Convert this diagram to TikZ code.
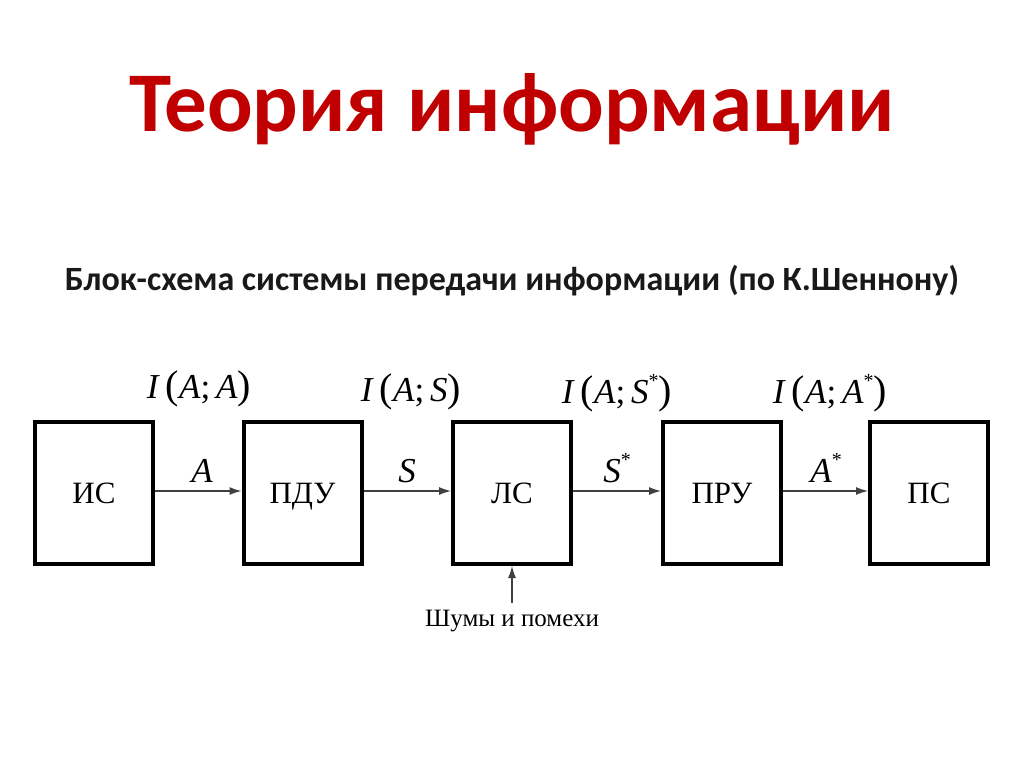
\documentclass[tikz,border=0pt]{standalone}
\usepackage{fontspec}
\setmainfont{Liberation Serif}
\newfontfamily\titlefont{Carlito}
\usetikzlibrary{arrows.meta}
\definecolor{titlered}{RGB}{192,0,0}
\newcommand{\bigparL}{{\fontsize{40}{40}\selectfont(}}
\newcommand{\bigparR}{{\fontsize{40}{40}\selectfont)}}
\newcommand{\starsup}{\raisebox{0.45em}{\fontsize{20}{20}\selectfont *}}
\begin{document}
\begin{tikzpicture}[x=1pt,y=-1pt,
  blk/.style={draw,line width=4pt,minimum width=118pt,minimum height=142pt,inner sep=0pt,text height=20pt,text depth=0pt,font=\fontsize{31}{36}\selectfont},
  conn/.style={draw=black!75,line width=1.2pt,-{Latex[length=12pt,width=8pt]}},
  lab/.style={font=\fontsize{35}{40}\selectfont,inner sep=0pt,anchor=base},
  info/.style={font=\fontsize{35}{40}\selectfont,inner sep=0pt,anchor=base}]
\useasboundingbox[fill=white] (0,0) rectangle (1024,767);
\node[font=\titlefont\bfseries\fontsize{85}{100}\selectfont,text=titlered,anchor=base] (title) at (512,132) {Теория информации};
\node[font=\titlefont\bfseries\fontsize{34}{40}\selectfont,text=black!90,anchor=base] (sub) at (512,290) {Блок-схема системы передачи информации (по К.Шеннону)};
\node[blk] (is) at (94,493) {ИС};
\node[blk] (pdu) at (302.5,493) {ПДУ};
\node[blk] (ls) at (512,493) {ЛС};
\node[blk] (pru) at (722,493) {ПРУ};
\node[blk] (ps) at (929,493) {ПС};
\draw[conn] (is.east |- 0,491) -- (pdu.west |- 0,491);
\draw[conn] (pdu.east |- 0,491) -- (ls.west |- 0,491);
\draw[conn] (ls.east |- 0,491) -- (pru.west |- 0,491);
\draw[conn] (pru.east |- 0,491) -- (ps.west |- 0,491);
\node[lab] (la) at (202,482) {\textit{A}};
\node[lab] (ls1) at (407,482) {\textit{S}};
\node[lab] (ls2) at (617,482) {\textit{S}\starsup};
\node[lab] (la2) at (826,482) {\textit{A}\starsup};
\node[info] (i1) at (199,398) {\textit{I}\,\bigparL\textit{A};\,\textit{A}\bigparR};
\node[info] (i2) at (411,401) {\textit{I}\,\bigparL\textit{A};\,\textit{S}\bigparR};
\node[info] (i3) at (617,403) {\textit{I}\,\bigparL\textit{A};\,\textit{S}\starsup\bigparR};
\node[info] (i4) at (830,403) {\textit{I}\,\bigparL\textit{A};\,\textit{A}\starsup\bigparR};
\node[font=\fontsize{25}{30}\selectfont,inner sep=0pt] (noise) at (512,621) {Шумы и помехи};
\coordinate (nstart) at (512,603);
\draw[conn] (nstart) -- (ls.south);
\end{tikzpicture}
\end{document}
